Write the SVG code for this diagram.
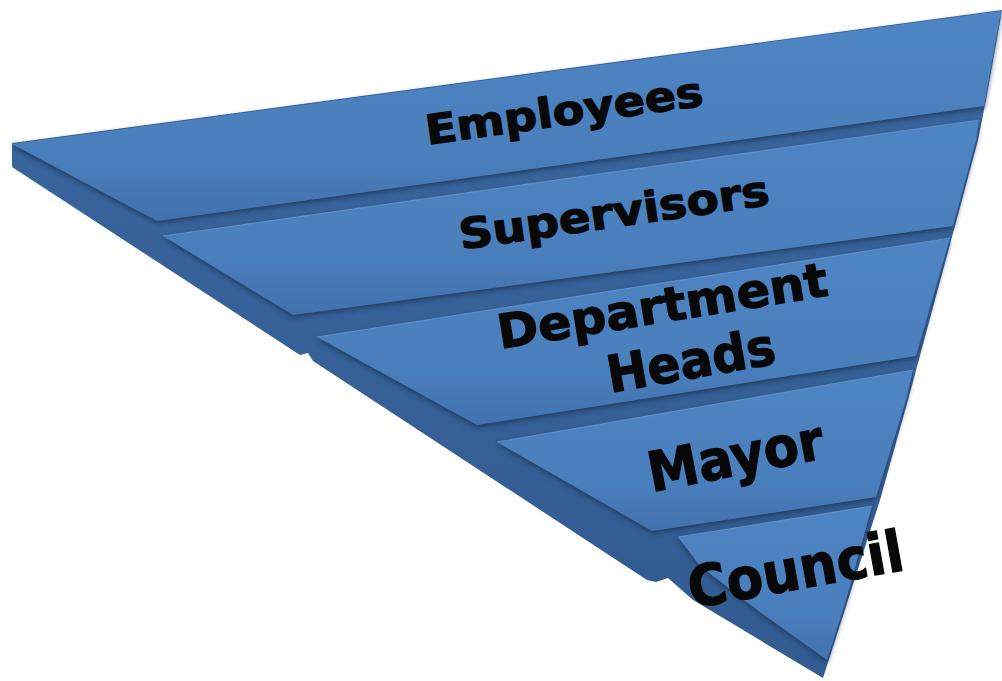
<svg xmlns="http://www.w3.org/2000/svg" width="1002" height="681" viewBox="0 0 1002 681">
  <defs>
    <linearGradient id="faceGrad" x1="0" y1="0" x2="0" y2="1">
      <stop offset="0" stop-color="#4f85c4"/>
      <stop offset="0.7" stop-color="#4a7ebc"/>
      <stop offset="1" stop-color="#4172ae"/>
    </linearGradient>
    <linearGradient id="sideGrad" x1="0" y1="0" x2="0" y2="1">
      <stop offset="0" stop-color="#3a669e"/>
      <stop offset="1" stop-color="#325b90"/>
    </linearGradient>
    <filter id="shadow" x="-5%" y="-5%" width="110%" height="120%">
      <feDropShadow dx="0" dy="2.5" stdDeviation="2.5" flood-color="#1a3459" flood-opacity="0.85"/>
    </filter>
  </defs>
  <style>
    .face { fill: url(#faceGrad); filter: url(#shadow); }
    .hl { fill: none; stroke: #6b9ad3; stroke-width: 1.2; stroke-opacity: 0.7; }
    .lbl { font-family: "DejaVu Sans", "Liberation Sans", sans-serif; font-weight: bold; fill: #080808; stroke: #080808; stroke-width: 1.3; stroke-linejoin: round; text-anchor: middle; }
  </style>
  <rect width="1002" height="681" fill="#ffffff"/>

  <g id="body">
    <path d="M12,143 L1002,10 L986,100 L978,140 L962,200 L908,400 L880,500 L848,600 L823,678 L693,600 L668,578 L656,582 L647,580 L313,361 L308,353 L300,355 L12,167 Z" fill="url(#sideGrad)"/>
  </g>

  <g id="council">
    <path class="face" d="M678,537 L872,506 L846,600 L827,660 L760,612 L700,566 Z"/>
    <path class="hl" d="M678,537 L872,506"/>
    <text class="lbl" font-size="57" textLength="218" lengthAdjust="spacingAndGlyphs" transform="translate(799,589) rotate(-10.2)">Council</text>
  </g>

  <g id="mayor">
    <path class="face" d="M497,442 L913,370 L906,400 L876,497 L652,531 Z"/>
    <path class="hl" d="M497,442 L913,370"/>
    <text class="lbl" font-size="55" textLength="178" lengthAdjust="spacingAndGlyphs" transform="translate(739,475) rotate(-11)">Mayor</text>
  </g>

  <g id="department-heads">
    <path class="face" d="M317,337 L950,238 L916,356 L477,425 Z"/>
    <path class="hl" d="M317,337 L950,238"/>
    <text class="lbl" font-size="47" textLength="334" lengthAdjust="spacingAndGlyphs" transform="translate(665,322) rotate(-9.2)">Department</text>
    <text class="lbl" font-size="51" textLength="170" lengthAdjust="spacingAndGlyphs" transform="translate(694,378) rotate(-10)">Heads</text>
  </g>

  <g id="supervisors">
    <path class="face" d="M163,236 L979,120 L976,140 L960,200 L953,226 L293,315 Z"/>
    <path class="hl" d="M163,236 L979,120"/>
    <text class="lbl" font-size="42" textLength="313" lengthAdjust="spacingAndGlyphs" transform="translate(616,227) rotate(-8.3)">Supervisors</text>
  </g>

  <g id="employees">
    <path class="face" d="M12,144 L1001,11 L984,106 L157,221 Z"/>
    <text class="lbl" font-size="41" textLength="280" lengthAdjust="spacingAndGlyphs" transform="translate(566,125) rotate(-8.1)">Employees</text>
  </g>

  <g id="connectors"></g>
</svg>
